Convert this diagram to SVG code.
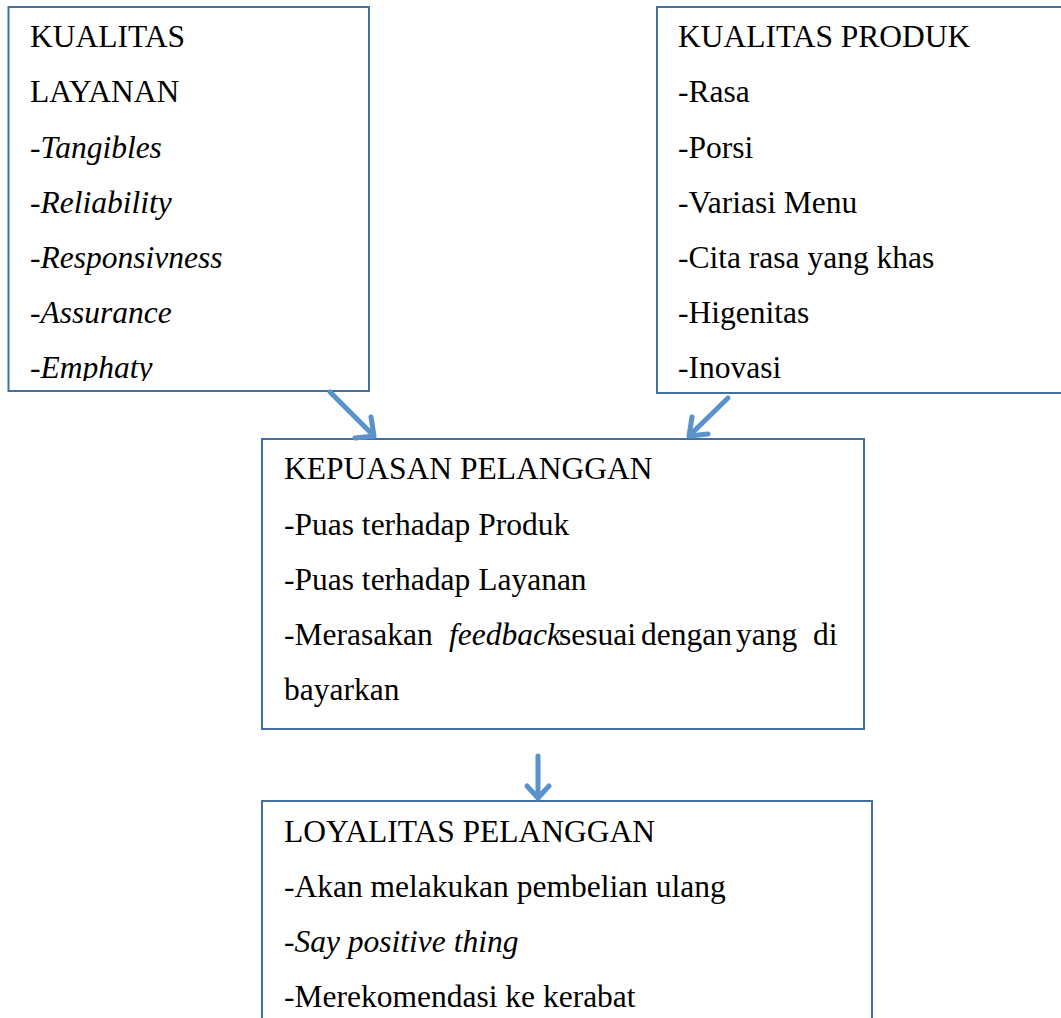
<svg xmlns="http://www.w3.org/2000/svg" width="1061" height="1018" viewBox="0 0 1061 1018">
<style>
.box{fill:#fff;stroke:#41709f;stroke-width:2}
text{font-family:"Liberation Serif","Times New Roman",serif;font-size:31.5px;fill:#000}
.i{font-style:italic}
.arr{fill:none;stroke:#5b92cc;stroke-width:5;stroke-linecap:round;stroke-linejoin:round}
</style>
<defs>
<clipPath id="c1"><rect x="9" y="8" width="360" height="373"/></clipPath>
</defs>
<rect width="1061" height="1018" fill="#fff"/>
<g id="kualitas-layanan">
<rect class="box" x="8.5" y="7" width="360.5" height="384"/>
<g clip-path="url(#c1)">
<text x="30" y="47">KUALITAS</text>
<text x="30" y="102">LAYANAN</text>
<text x="30" y="158">-<tspan class="i">Tangibles</tspan></text>
<text x="30" y="213">-<tspan class="i">Reliability</tspan></text>
<text x="30" y="268">-<tspan class="i">Responsivness</tspan></text>
<text x="30" y="323">-<tspan class="i">Assurance</tspan></text>
<text x="30" y="378">-<tspan class="i">Emphaty</tspan></text>
</g>
</g>
<g id="kualitas-produk">
<rect class="box" x="657" y="7" width="420" height="386"/>
<text x="678" y="47">KUALITAS PRODUK</text>
<text x="678" y="102">-Rasa</text>
<text x="678" y="158">-Porsi</text>
<text x="678" y="213">-Variasi Menu</text>
<text x="678" y="268">-Cita rasa yang khas</text>
<text x="678" y="323">-Higenitas</text>
<text x="678" y="378">-Inovasi</text>
</g>
<g id="kepuasan-pelanggan">
<rect class="box" x="262" y="439" width="602" height="290"/>
<text x="284" y="479">KEPUASAN PELANGGAN</text>
<text x="284" y="535">-Puas terhadap Produk</text>
<text x="284" y="590">-Puas terhadap Layanan</text>
<text y="645"><tspan x="284">-Merasakan</tspan><tspan x="449" class="i">feedback</tspan><tspan x="559">sesuai</tspan><tspan x="641">dengan</tspan><tspan x="736">yang</tspan><tspan x="813">di</tspan></text>
<text x="284" y="700">bayarkan</text>
</g>
<g id="loyalitas-pelanggan">
<rect class="box" x="262" y="801" width="610" height="240"/>
<text x="284" y="842">LOYALITAS PELANGGAN</text>
<text x="284" y="897">-Akan melakukan pembelian ulang</text>
<text x="284" y="952">-<tspan class="i">Say positive thing</tspan></text>
<text x="284" y="1007">-Merekomendasi ke kerabat</text>
</g>
<g id="connectors">
<path class="arr" d="M330 392 L374 436 M355 438 L374 436 L371 417"/>
<path class="arr" d="M728 398 L689 436 M692 417 L689 436 L708 434"/>
<path class="arr" d="M538 756 L538 798 M527 786 L538 798 L549 786"/>
</g>
</svg>
